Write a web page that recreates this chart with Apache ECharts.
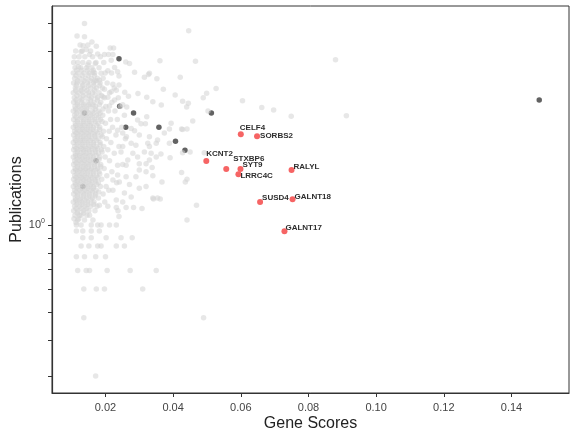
<!DOCTYPE html>
<html>
<head>
<meta charset="utf-8">
<script src="https://cdn.jsdelivr.net/npm/echarts@6/dist/echarts.min.js"></script>
<style>
  html, body { margin: 0; padding: 0; background: #fff; }
  #chart { width: 570px; height: 432px; }
</style>
</head>
<body>
<div id="chart"></div>
<script>
// gene score vs publications, log y

// background genes, dense block first (score, publications)
var greyDense = [
  [0.0125,4.2],[0.0148,4.2],
  [0.0112,4.0],[0.0131,4.0],[0.0156,4.0],
  [0.0108,3.82],[0.0122,3.82],[0.0139,3.82],[0.0162,3.82],[0.0185,3.82],
  [0.0106,3.65],[0.0118,3.65],[0.0133,3.65],[0.0151,3.65],[0.0172,3.65],[0.0195,3.65],
  [0.0110,3.5],[0.0127,3.5],[0.0144,3.5],[0.0160,3.5],[0.0181,3.5],
  [0.0105,3.36],[0.0119,3.36],[0.0136,3.36],[0.0152,3.36],[0.0168,3.36],[0.0199,3.36],[0.0218,3.36],
  [0.0109,3.22],[0.0124,3.22],[0.0141,3.22],[0.0158,3.22],[0.0176,3.22],[0.0193,3.22],
  [0.0106,3.1],[0.0116,3.1],[0.0131,3.1],[0.0147,3.1],[0.0165,3.1],[0.0184,3.1],[0.0205,3.1],
  [0.0111,2.98],[0.0127,2.98],[0.0139,2.98],[0.0156,2.98],[0.0173,2.98],[0.0191,2.98],[0.0226,2.98],
  [0.0105,2.87],[0.0120,2.87],[0.0134,2.87],[0.0150,2.87],[0.0162,2.87],[0.0181,2.87],[0.0212,2.87],
  [0.0108,2.76],[0.0125,2.76],[0.0142,2.76],[0.0158,2.76],[0.0176,2.76],[0.0197,2.76],[0.0238,2.76],
  [0.0106,2.66],[0.0117,2.66],[0.0131,2.66],[0.0148,2.66],[0.0166,2.66],[0.0186,2.66],[0.0219,2.66],
  [0.0110,2.57],[0.0123,2.57],[0.0139,2.57],[0.0155,2.57],[0.0171,2.57],[0.0201,2.57],[0.0244,2.57],
  [0.0105,2.48],[0.0118,2.48],[0.0133,2.48],[0.0146,2.48],[0.0162,2.48],[0.0180,2.48],[0.0209,2.48],[0.0228,2.48],
  [0.0109,2.4],[0.0126,2.4],[0.0141,2.4],[0.0157,2.4],[0.0174,2.4],[0.0192,2.4],[0.0256,2.4],
  [0.0106,2.32],[0.0119,2.32],[0.0135,2.32],[0.0150,2.32],[0.0167,2.32],[0.0185,2.32],[0.0215,2.32],[0.0235,2.32],
  [0.0111,2.25],[0.0127,2.25],[0.0143,2.25],[0.0159,2.25],[0.0178,2.25],[0.0200,2.25],
  [0.0105,2.18],[0.0117,2.18],[0.0132,2.18],[0.0148,2.18],[0.0164,2.18],[0.0183,2.18],[0.0221,2.18],[0.0248,2.18],
  [0.0109,2.11],[0.0124,2.11],[0.0139,2.11],[0.0155,2.11],[0.0172,2.11],[0.0194,2.11],[0.0211,2.11],
  [0.0106,2.05],[0.0120,2.05],[0.0136,2.05],[0.0151,2.05],[0.0168,2.05],[0.0187,2.05],[0.0231,2.05],
  [0.0110,1.99],[0.0127,1.99],[0.0143,1.99],[0.0160,1.99],[0.0178,1.99],[0.0203,1.99],[0.0259,1.99],
  [0.0105,1.93],[0.0118,1.93],[0.0133,1.93],[0.0148,1.93],[0.0165,1.93],[0.0184,1.93],[0.0216,1.93],
  [0.0109,1.87],[0.0125,1.87],[0.0140,1.87],[0.0157,1.87],[0.0173,1.87],[0.0195,1.87],[0.0240,1.87],
  [0.0106,1.82],[0.0119,1.82],[0.0135,1.82],[0.0151,1.82],[0.0169,1.82],[0.0188,1.82],[0.0207,1.82],
  [0.0111,1.77],[0.0127,1.77],[0.0143,1.77],[0.0161,1.77],[0.0179,1.77],[0.0226,1.77],
  [0.0105,1.72],[0.0117,1.72],[0.0132,1.72],[0.0148,1.72],[0.0164,1.72],[0.0183,1.72],[0.0199,1.72],
  [0.0109,1.67],[0.0124,1.67],[0.0139,1.67],[0.0155,1.67],[0.0172,1.67],[0.0212,1.67],
  [0.0106,1.62],[0.0120,1.62],[0.0136,1.62],[0.0151,1.62],[0.0167,1.62],[0.0186,1.62],[0.0251,1.62],
  [0.0110,1.57],[0.0126,1.57],[0.0142,1.57],[0.0159,1.57],[0.0177,1.57],[0.0196,1.57],
  [0.0105,1.53],[0.0118,1.53],[0.0133,1.53],[0.0148,1.53],[0.0164,1.53],[0.0181,1.53],[0.0219,1.53],
  [0.0109,1.48],[0.0124,1.48],[0.0139,1.48],[0.0156,1.48],[0.0173,1.48],[0.0204,1.48],
  [0.0106,1.44],[0.0120,1.44],[0.0135,1.44],[0.0151,1.44],[0.0168,1.44],[0.0189,1.44],
  [0.0110,1.40],[0.0127,1.40],[0.0143,1.40],[0.0160,1.40],[0.0179,1.40],[0.0233,1.40],
  [0.0105,1.36],[0.0118,1.36],[0.0133,1.36],[0.0149,1.36],[0.0165,1.36],[0.0185,1.36],
  [0.0109,1.32],[0.0124,1.32],[0.0140,1.32],[0.0157,1.32],[0.0172,1.32],[0.0210,1.32],
  [0.0106,1.28],[0.0119,1.28],[0.0136,1.28],[0.0152,1.28],[0.0170,1.28],[0.0193,1.28],
  [0.0111,1.24],[0.0127,1.24],[0.0144,1.24],[0.0161,1.24],[0.0179,1.24],
  [0.0105,1.20],[0.0117,1.20],[0.0132,1.20],[0.0148,1.20],[0.0166,1.20],[0.0198,1.20],
  [0.0109,1.16],[0.0124,1.16],[0.0140,1.16],[0.0157,1.16],[0.0175,1.16],
  [0.0106,1.12],[0.0119,1.12],[0.0135,1.12],[0.0151,1.12],[0.0169,1.12],
  [0.0110,1.08],[0.0128,1.08],[0.0145,1.08],
  [0.0107,1.05],[0.0121,1.05],
  [0.0113,1.02]
];

// more genes packed between the rows above
var greyCore = [
  [0.0115,3.43],[0.0130,3.43],[0.0147,3.43],[0.0164,3.43],
  [0.0113,3.29],[0.0131,3.29],[0.0149,3.29],[0.0167,3.29],
  [0.0118,3.16],[0.0137,3.16],[0.0154,3.16],[0.0172,3.16],
  [0.0114,3.04],[0.0133,3.04],[0.0150,3.04],[0.0166,3.04],[0.0183,3.04],
  [0.0112,2.92],[0.0128,2.92],[0.0145,2.92],[0.0168,2.92],
  [0.0116,2.81],[0.0134,2.81],[0.0151,2.81],[0.0169,2.81],[0.0188,2.81],
  [0.0113,2.71],[0.0130,2.71],[0.0156,2.71],[0.0176,2.71],
  [0.0117,2.61],[0.0135,2.61],[0.0151,2.61],[0.0163,2.61],[0.0182,2.61],
  [0.0112,2.52],[0.0128,2.52],[0.0144,2.52],[0.0170,2.52],[0.0193,2.52],
  [0.0115,2.44],[0.0134,2.44],[0.0150,2.44],[0.0166,2.44],[0.0184,2.44],
  [0.0113,2.36],[0.0129,2.36],[0.0145,2.36],[0.0161,2.36],[0.0179,2.36],
  [0.0117,2.28],[0.0135,2.28],[0.0152,2.28],[0.0170,2.28],[0.0190,2.28],
  [0.0112,2.21],[0.0126,2.21],[0.0140,2.21],[0.0156,2.21],[0.0174,2.21],
  [0.0116,2.14],[0.0132,2.14],[0.0147,2.14],[0.0163,2.14],[0.0183,2.14],
  [0.0113,2.08],[0.0128,2.08],[0.0144,2.08],[0.0160,2.08],[0.0177,2.08],
  [0.0117,2.02],[0.0134,2.02],[0.0151,2.02],[0.0169,2.02],[0.0191,2.02],
  [0.0112,1.96],[0.0126,1.96],[0.0140,1.96],[0.0156,1.96],[0.0173,1.96],
  [0.0116,1.90],[0.0132,1.90],[0.0149,1.90],[0.0165,1.90],[0.0184,1.90],
  [0.0113,1.84],[0.0128,1.84],[0.0143,1.84],[0.0160,1.84],[0.0177,1.84],
  [0.0117,1.79],[0.0135,1.79],[0.0152,1.79],[0.0170,1.79],[0.0190,1.79],
  [0.0112,1.74],[0.0124,1.74],[0.0140,1.74],[0.0156,1.74],[0.0173,1.74],
  [0.0116,1.69],[0.0131,1.69],[0.0147,1.69],[0.0163,1.69],[0.0181,1.69],
  [0.0113,1.64],[0.0128,1.64],[0.0143,1.64],[0.0159,1.64],[0.0176,1.64],
  [0.0117,1.59],[0.0134,1.59],[0.0150,1.59],[0.0168,1.59],[0.0186,1.59],
  [0.0112,1.55],[0.0125,1.55],[0.0140,1.55],[0.0156,1.55],[0.0172,1.55],
  [0.0116,1.50],[0.0131,1.50],[0.0147,1.50],[0.0164,1.50],[0.0183,1.50],
  [0.0113,1.46],[0.0128,1.46],[0.0143,1.46],[0.0160,1.46],[0.0177,1.46],
  [0.0117,1.42],[0.0135,1.42],[0.0152,1.42],[0.0170,1.42],
  [0.0112,1.38],[0.0125,1.38],[0.0141,1.38],[0.0157,1.38],[0.0174,1.38],
  [0.0116,1.34],[0.0132,1.34],[0.0148,1.34],[0.0164,1.34],
  [0.0113,1.30],[0.0128,1.30],[0.0144,1.30],[0.0161,1.30],[0.0180,1.30],
  [0.0117,1.26],[0.0135,1.26],[0.0152,1.26],[0.0169,1.26],
  [0.0112,1.22],[0.0125,1.22],[0.0140,1.22],[0.0157,1.22],
  [0.0116,1.18],[0.0132,1.18],[0.0148,1.18],[0.0165,1.18],
  [0.0113,1.14],[0.0128,1.14],[0.0144,1.14],
  [0.0117,1.10],[0.0136,1.10]
];

// background genes, scattered outside the dense block
var greySparse = [
  [0.0138,4.98],[0.0116,4.51],[0.0138,4.48],[0.0160,4.30],[0.0134,4.17],[0.0173,4.16],
  [0.0143,4.05],[0.0128,3.98],[0.0153,3.89],[0.0177,3.91],[0.0197,3.89],[0.0214,4.10],
  [0.0224,4.10],[0.0209,3.89],[0.0222,3.89],[0.0217,3.72],[0.0260,3.67],[0.0271,3.62],
  [0.0170,3.62],[0.0120,3.53],[0.0148,3.58],[0.0227,3.51],[0.0207,3.42],[0.0286,3.38],
  [0.0330,3.35],[0.0352,3.21],[0.0315,3.25],[0.0236,3.39],[0.0240,3.28],[0.0163,3.37],
  [0.0187,3.35],[0.0168,3.16],[0.0182,3.17],[0.0222,3.07],[0.0240,3.05],[0.0197,2.95],
  [0.0217,2.89],[0.0232,2.93],[0.0257,2.88],[0.0268,2.79],[0.0296,2.85],[0.0322,2.77],
  [0.0340,2.67],[0.0192,2.78],[0.0207,2.77],[0.0227,2.71],[0.0251,2.61],[0.0263,2.56],
  [0.0212,2.58],[0.0446,4.70],[0.0361,3.70],[0.0466,3.69],[0.0880,3.73],[0.0421,3.25],
  [0.0327,3.32],[0.0371,2.95],[0.0406,2.82],[0.0499,2.86],[0.0489,2.76],[0.0527,2.97],
  [0.0365,2.60],[0.0428,2.68],[0.0445,2.64],[0.0440,2.56],[0.0605,2.69],[0.0662,2.55],
  [0.0697,2.50],[0.0749,2.38],[0.0912,2.39],[0.0503,2.48],[0.0458,2.29],[0.0394,2.25],
  [0.0425,2.15],[0.0441,2.15],[0.0389,2.15],
  [0.0322,2.37],[0.0305,2.24],[0.0318,2.24],[0.0295,2.31],[0.0276,2.16],[0.0286,2.12],
  [0.0330,2.02],[0.0325,1.92],[0.0300,2.05],[0.0251,2.08],[0.0262,2.02],[0.0236,2.13],
  [0.0350,1.92],[0.0276,1.92],[0.0290,1.89],[0.0251,1.87],[0.0315,1.79],[0.0335,1.77],
  [0.0281,1.77],[0.0295,1.72],[0.0246,1.79],[0.0266,1.68],[0.0236,1.61],[0.0261,1.61],
  [0.0300,1.63],[0.0320,1.63],[0.0338,1.58],[0.0350,1.72],[0.0300,1.55],[0.0290,1.47],
  [0.0320,1.53],[0.0236,1.49],[0.0261,1.47],[0.0222,1.43],[0.0241,1.41],[0.0271,1.38],
  [0.0300,1.34],[0.0320,1.36],[0.0202,1.36],[0.0222,1.32],[0.0256,1.29],[0.0276,1.25],
  [0.0232,1.22],[0.0251,1.20],[0.0182,1.17],[0.0207,1.16],[0.0340,1.24],[0.0354,1.24],
  [0.0232,1.15],[0.0261,1.15],[0.0283,1.15],[0.0428,2.14],[0.0374,2.08],[0.0354,1.97],
  [0.0389,1.92],[0.0428,1.78],[0.0450,1.79],[0.0364,1.76],[0.0391,1.71],[0.0492,1.78],
  [0.0425,1.52],[0.0367,1.41],[0.0441,1.44],[0.0436,1.41],[0.0342,1.23],[0.0362,1.23],
  [0.0469,1.17],[0.0441,1.04],[0.0330,1.87],[0.0330,1.68],[0.0340,1.48],
  [0.0240,1.07],[0.0123,1.08],[0.0153,1.08],[0.0118,1.04],[0.0138,1.04],[0.0163,1.04],
  [0.0114,1.00],[0.0128,1.00],[0.0158,1.00],[0.0177,1.00],[0.0187,1.00],[0.0212,1.00],
  [0.0232,1.00],[0.0114,0.953],[0.0133,0.953],[0.0158,0.953],[0.0182,0.953],
  [0.0133,0.904],[0.0158,0.904],[0.0202,0.904],[0.0246,0.904],[0.0279,0.904],
  [0.0128,0.846],[0.0151,0.846],[0.0177,0.846],[0.0187,0.846],[0.0232,0.846],[0.0256,0.846],
  [0.0114,0.777],[0.0138,0.777],[0.0171,0.777],[0.0200,0.777],
  [0.0118,0.695],[0.0143,0.695],[0.0153,0.695],[0.0205,0.695],[0.0273,0.695],[0.0350,0.695],
  [0.0136,0.600],[0.0173,0.600],[0.0197,0.600],[0.0310,0.600],
  [0.0136,0.477],[0.0490,0.477],[0.0171,0.300],[0.0237,1.12],[0.0308,1.14]
];

// highlighted genes (dark)
var darkGenes = [
  [0.0240,3.76],[0.1482,2.71],[0.0242,2.575],[0.0283,2.44],[0.0513,2.44],[0.0260,2.18],
  [0.0358,2.18],[0.0407,1.948],[0.0435,1.813],[0.0138,2.44],[0.0172,1.67],[0.0133,1.36]
];

// labelled genes
var redNames  = ['CELF4','SORBS2','KCNT2','STXBP6','SYT9','LRRC4C','RALYL','SUSD4','GALNT18','GALNT17'];
var redScores = [0.0600,0.0648,0.0498,0.0557,0.0599,0.0593,0.0750,0.0657,0.0753,0.0729];
var redPubs   = [2.06,2.03,1.665,1.563,1.563,1.497,1.55,1.20,1.227,0.951];

var xTicks = [0.02,0.04,0.06,0.08,0.10,0.12,0.14];
var yMinorTicks = [0.3,0.4,0.5,0.6,0.7,0.8,0.9,1,2,3,4,5];
var yLabelTicks = [1];

// label nudges (px), like adjustText did
var labelShift = [[-1,-7],[3,0],[0,-7],[7,-10],[2,-4],[2,1],[2,-3],[2,-4],[2,-3],[1,-3]];

var redData = redNames.map(function (n, i) {
  return {
    value: [redScores[i], redPubs[i]],
    name: n,
    label: { offset: labelShift[i] }
  };
});

var chart = echarts.init(document.getElementById('chart'), null, { renderer: 'canvas' });

chart.setOption({
  animation: false,
  backgroundColor: '#ffffff',
  grid: {
    left: 52, right: 1, top: 6, bottom: 39,
    containLabel: false,
    outerBoundsMode: 'none',
    show: true, borderColor: '#333', borderWidth: 1, backgroundColor: 'transparent'
  },
  xAxis: {
    type: 'value',
    min: 0.0042, max: 0.157,
    name: 'Gene Scores',
    nameLocation: 'middle',
    nameGap: 23,
    nameMoveOverlap: false,
    nameTextStyle: { fontSize: 16, color: '#222', fontFamily: 'Liberation Sans' },
    splitLine: { show: false },
    axisLine: { lineStyle: { color: '#333', width: 1.2 } },
    axisTick: { length: 4, lineStyle: { color: '#333' }, customValues: xTicks },
    axisLabel: {
      customValues: xTicks, margin: 9, fontSize: 11, color: '#444', fontFamily: 'Liberation Sans',
      formatter: function (v) { return v.toFixed(2); }
    }
  },
  yAxis: {
    type: 'log',
    logBase: 10,
    min: 0.262, max: 5.73,
    name: 'Publications',
    nameLocation: 'middle',
    nameGap: 27,
    nameMoveOverlap: false,
    nameTextStyle: { fontSize: 16, color: '#222', fontFamily: 'Liberation Sans' },
    splitLine: { show: false },
    axisLine: { show: true, lineStyle: { color: '#333', width: 1.2 } },
    axisTick: { show: true, length: 4, lineStyle: { color: '#333' }, customValues: yMinorTicks },
    axisLabel: {
      customValues: yLabelTicks, margin: 7, color: '#444', fontFamily: 'Liberation Sans',
      formatter: function () { return '{b|10}{s|0}'; },
      rich: {
        b: { fontSize: 11, color: '#444', fontFamily: 'Liberation Sans' },
        s: { fontSize: 7, color: '#444', fontFamily: 'Liberation Sans', padding: [0, 0, 7, 0] }
      }
    }
  },
  series: [
    {
      type: 'scatter',
      data: darkGenes,
      symbolSize: 5.5,
      itemStyle: { color: '#5a5a5a', opacity: 0.95 },
      silent: true
    },
    {
      type: 'scatter',
      data: greyDense.concat(greyCore, greySparse),
      symbolSize: 5.5,
      itemStyle: { color: '#d3d3d3', opacity: 0.55 },
      silent: true
    },
    {
      type: 'scatter',
      data: redData,
      symbolSize: 6,
      itemStyle: { color: '#f65c5c', opacity: 0.95 },
      silent: true,
      label: {
        show: true,
        position: 'inside',
        align: 'left',
        verticalAlign: 'middle',
        formatter: '{b}',
        fontSize: 8,
        fontWeight: 'bold',
        color: '#222',
        fontFamily: 'Liberation Sans'
      }
    }
  ]
});
</script>
</body>
</html>
